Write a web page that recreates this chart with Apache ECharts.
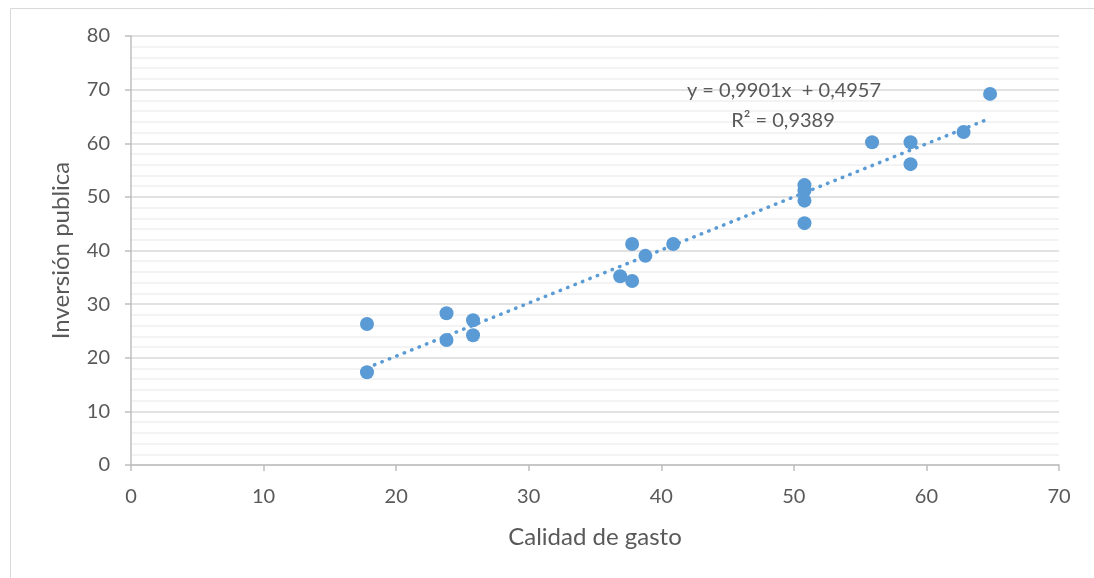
<!DOCTYPE html>
<html><head><meta charset="utf-8">
<script src="https://cdn.jsdelivr.net/npm/echarts@6/dist/echarts.min.js"></script>
<style>html,body{margin:0;padding:0;background:#fff}#c{width:1094px;height:578px}</style>
</head><body><div id="c"></div>
<script>
const calidadGasto = [17.8, 17.8, 23.8, 23.8, 25.8, 25.8, 36.9, 37.8, 37.8, 38.8, 40.9, 50.8, 50.8, 50.8, 50.8, 55.9, 58.8, 58.8, 62.8, 64.8];
const inversionPublica = [26.3, 17.3, 28.3, 23.3, 27.0, 24.2, 35.2, 41.2, 34.3, 39.0, 41.2, 52.2, 51.2, 49.3, 45.1, 60.2, 60.2, 56.1, 62.1, 69.2];
const trendSlope = 0.9901;
const trendIntercept = 0.4957;
const trendR2 = 0.9389;
const xTicks = [0, 10, 20, 30, 40, 50, 60, 70];
const yTicks = [0, 10, 20, 30, 40, 50, 60, 70, 80];
const xTitle = 'Calidad de gasto';
const yTitle = 'Inversión publica';
const eqText = 'y = 0,9901x  + 0,4957';
const r2Text = 'R² = 0,9389';

const pts = calidadGasto.map((x, i) => [x, inversionPublica[i]]);
const xMin = Math.min(...calidadGasto), xMax = Math.max(...calidadGasto);
const trend = [[xMin, trendSlope * xMin + trendIntercept], [xMax, trendSlope * xMax + trendIntercept]];

const FONT = 'Lato';
const TXT = '#595959';
const chart = echarts.init(document.getElementById('c'), null, {renderer: 'canvas'});
chart.setOption({
  animation: false,
  textStyle: {fontFamily: FONT},
  grid: {left: 131, right: 35, top: 36, bottom: 113},
  xAxis: {
    type: 'value', min: xTicks[0], max: xTicks[xTicks.length - 1], interval: 10,
    name: xTitle, nameLocation: 'middle', nameGap: 60,
    nameTextStyle: {fontSize: 24, color: TXT, fontFamily: FONT},
    axisLine: {show: true, onZero: false, lineStyle: {color: '#bfbfbf', width: 1.5}},
    axisTick: {show: true, inside: false, length: 6, lineStyle: {color: '#bfbfbf', width: 1.5}},
    axisLabel: {fontSize: 20, color: TXT, margin: 22, fontFamily: FONT},
    splitLine: {show: false}
  },
  yAxis: {
    type: 'value', min: yTicks[0], max: yTicks[yTicks.length - 1], interval: 10,
    name: yTitle, nameLocation: 'middle', nameGap: 58, nameRotate: 90,
    nameTextStyle: {fontSize: 24, color: TXT, fontFamily: FONT},
    axisLine: {show: true, onZero: false, lineStyle: {color: '#bfbfbf', width: 1.5}},
    axisTick: {show: true, inside: false, length: 6, lineStyle: {color: '#bfbfbf', width: 1.5}},
    axisLabel: {fontSize: 20, color: TXT, margin: 21, fontFamily: FONT},
    splitLine: {show: true, lineStyle: {color: '#d9d9d9', width: 1.5}},
    minorTick: {show: false, splitNumber: 5},
    minorSplitLine: {show: true, lineStyle: {color: '#efefef', width: 1.5}}
  },
  series: [
    {
      type: 'line', data: trend, symbol: 'none', silent: true, z: 2,
      lineStyle: {color: '#5B9BD5', width: 3.5, type: [0.5, 7.5], cap: 'round'}
    },
    {
      type: 'scatter', data: pts, symbol: 'circle', symbolSize: 14, z: 3,
      itemStyle: {color: '#5B9BD5', opacity: 1}
    }
  ],
  graphic: [
    {type: 'rect', shape: {x: 10.5, y: 8.5, width: 1100, height: 600}, style: {fill: 'none', stroke: '#d9d9d9', lineWidth: 1}, silent: true, z: -10},
    {type: 'text', x: 784, y: 91, style: {text: eqText, font: '20px ' + FONT, fill: TXT, align: 'center', verticalAlign: 'middle'}, z: 10},
    {type: 'text', x: 783, y: 121, style: {text: r2Text, font: '20px ' + FONT, fill: TXT, align: 'center', verticalAlign: 'middle'}, z: 10}
  ]
});
</script></body></html>
